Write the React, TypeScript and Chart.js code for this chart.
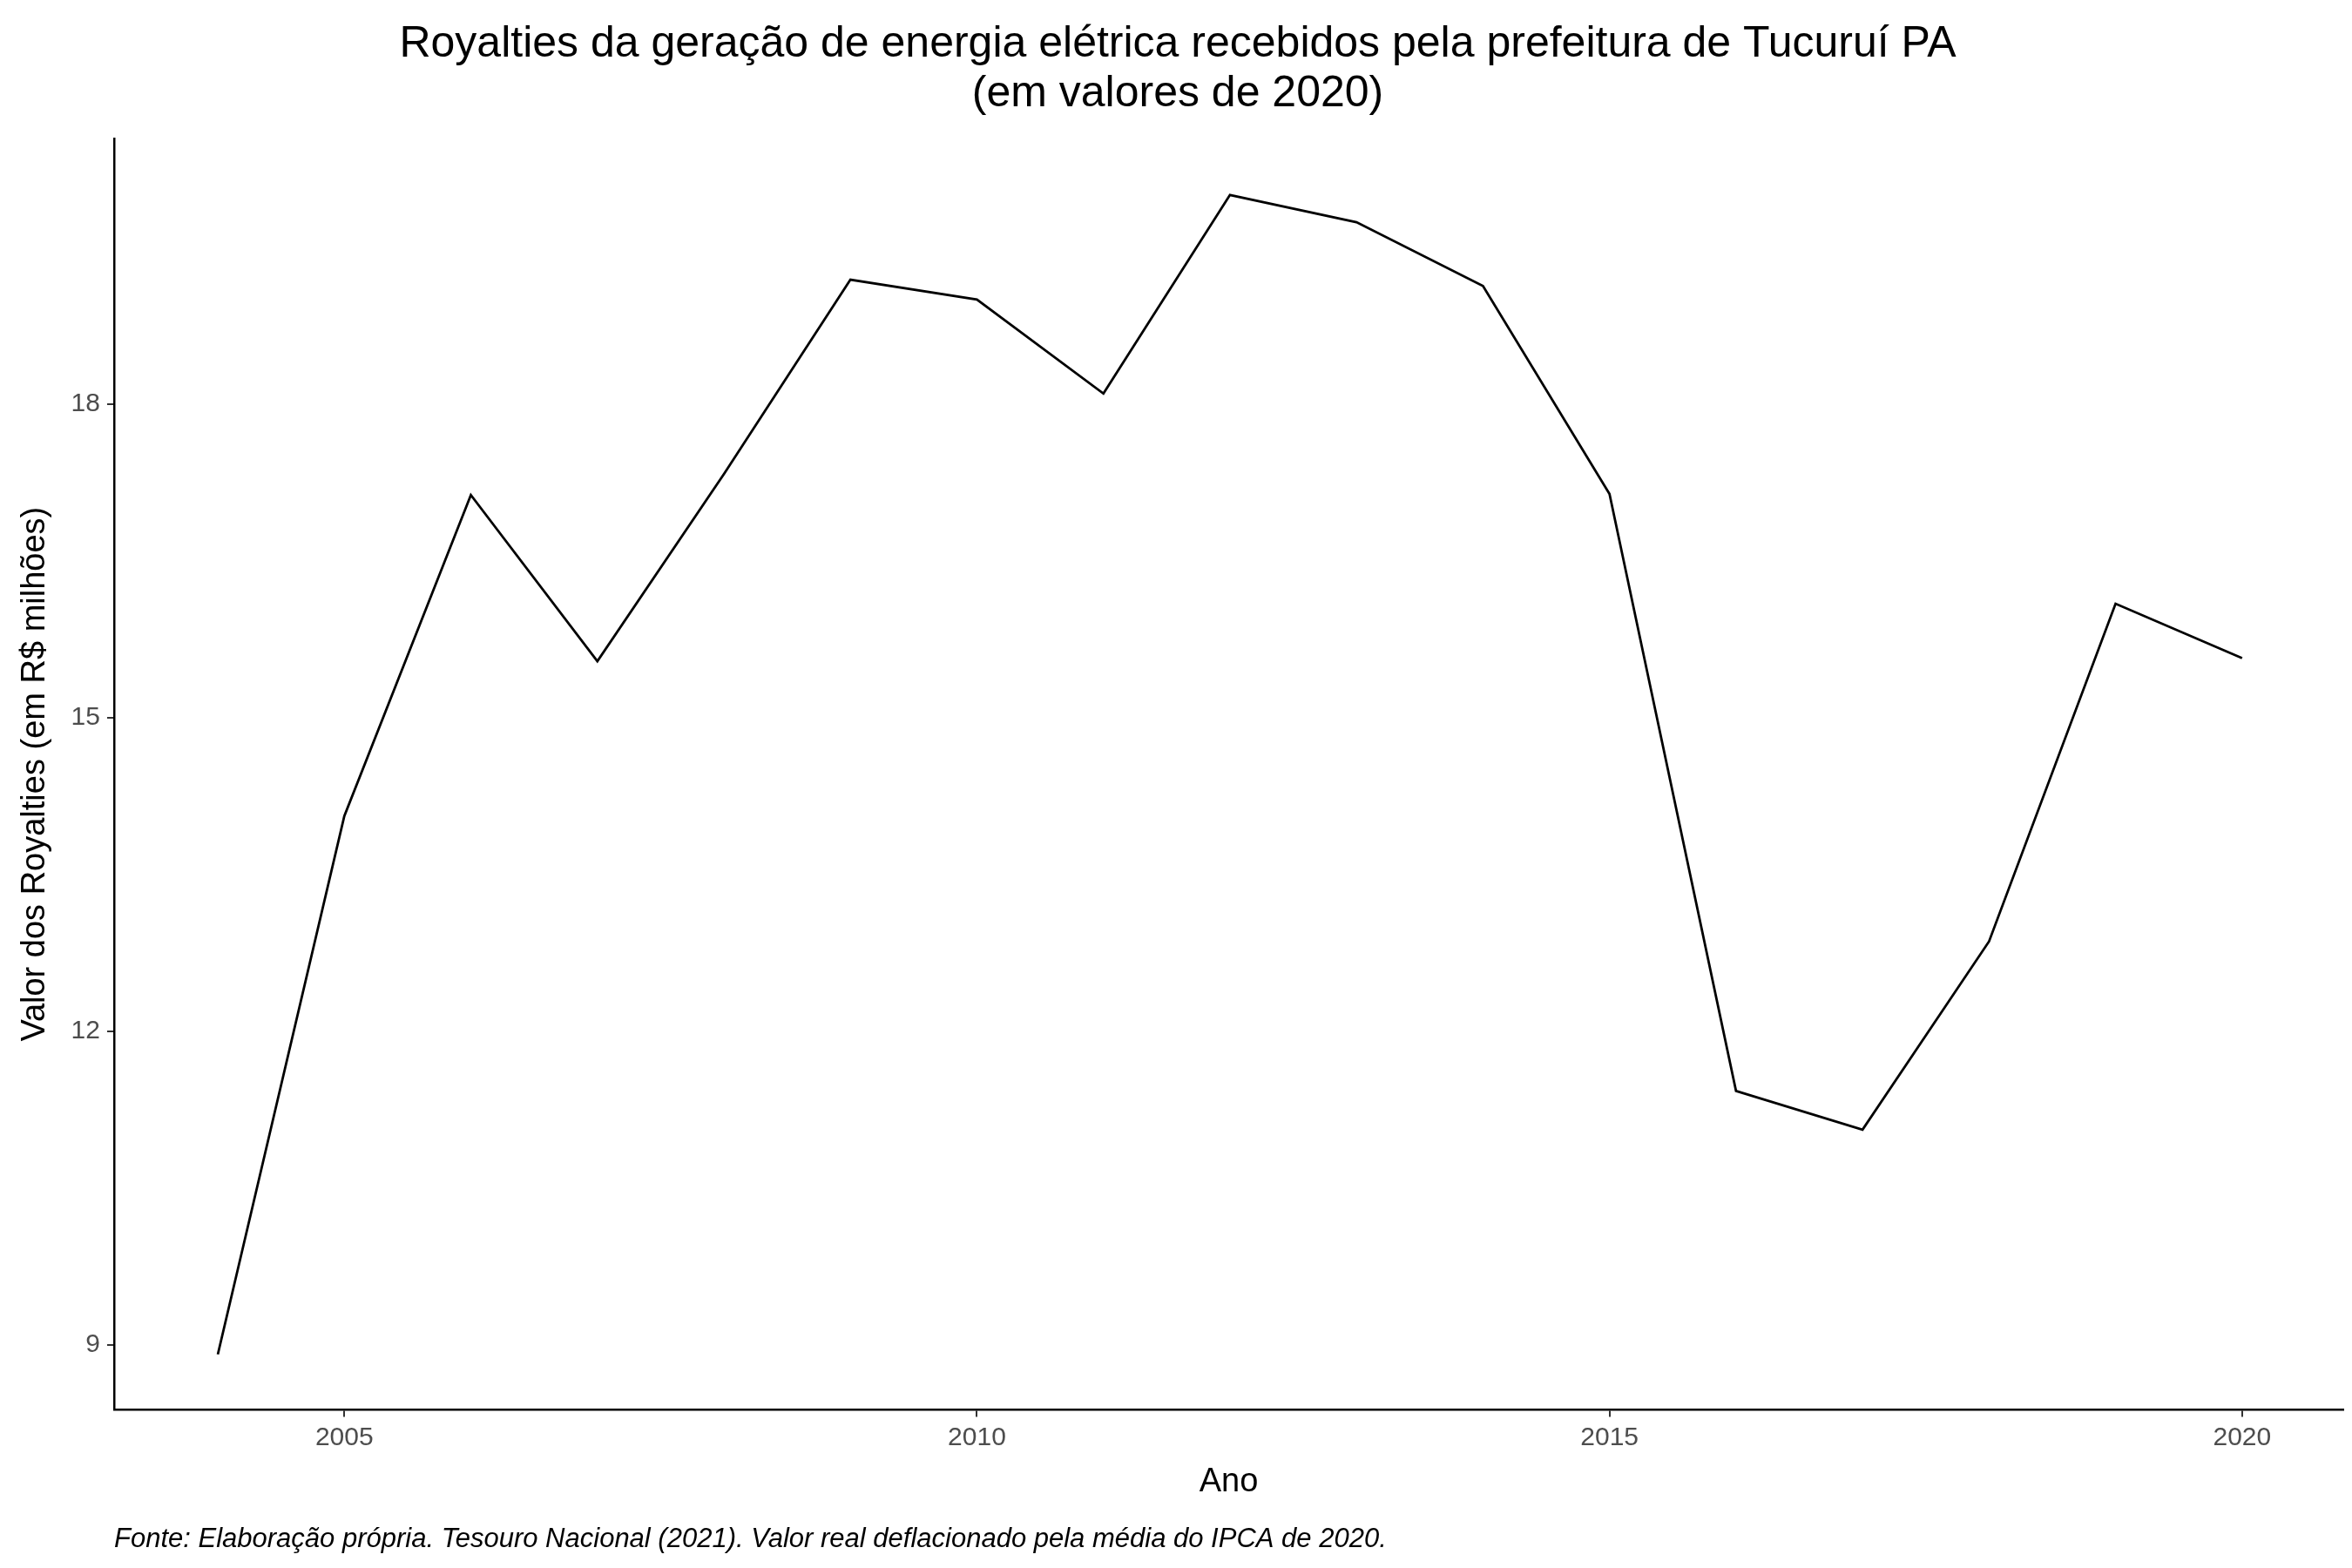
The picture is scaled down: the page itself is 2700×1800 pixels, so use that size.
import { useEffect, useRef } from "react"
import { Chart, registerables } from "chart.js"

Chart.register(...registerables)

const years = [2004, 2005, 2006, 2007, 2008, 2009, 2010, 2011, 2012, 2013, 2014, 2015, 2016, 2017, 2018, 2019, 2020]
const royalties = [8.91, 14.06, 17.13, 15.54, 17.33, 19.19, 19.0, 18.1, 20.0, 19.74, 19.13, 17.14, 11.43, 11.06, 12.86, 16.09, 15.57]
const xTicks = [2005, 2010, 2015, 2020]
const yTicks = [9, 12, 15, 18]
const caption = "Fonte: Elaboração própria. Tesouro Nacional (2021). Valor real deflacionado pela média do IPCA de 2020."

const FONT = "'Liberation Sans', Arial, sans-serif"

// draws the source note under the chart, aligned with the plot's left edge
const captionPlugin = {
  id: "caption",
  afterDraw(chart: Chart) {
    const ctx = chart.ctx
    ctx.save()
    ctx.font = `italic 31px ${FONT}`
    ctx.fillStyle = "#000000"
    ctx.textBaseline = "middle"
    ctx.textAlign = "left"
    ctx.fillText(caption, chart.chartArea.left, 1767)
    ctx.restore()
  },
}

export default function App() {
  const canvasRef = useRef<HTMLCanvasElement>(null)

  useEffect(() => {
    document.body.style.margin = "0"
    if (!canvasRef.current) return
    const chart = new Chart(canvasRef.current, {
      type: "line",
      data: {
        datasets: [
          {
            data: years.map((y, i) => ({ x: y, y: royalties[i] })),
            borderColor: "#000000",
            borderWidth: 2.8,
            pointRadius: 0,
            tension: 0,
          },
        ],
      },
      plugins: [captionPlugin],
      options: {
        animation: false,
        responsive: true,
        maintainAspectRatio: false,
        layout: { padding: { top: 10, right: 10, left: 14, bottom: 76 } },
        scales: {
          x: {
            type: "linear",
            min: 2003.18,
            max: 2020.8,
            afterBuildTicks: (axis) => {
              axis.ticks = xTicks.map((v) => ({ value: v }))
            },
            ticks: { color: "#4d4d4d", font: { family: FONT, size: 30 }, padding: 6, callback: (v) => String(v) },
            grid: { drawOnChartArea: false, drawTicks: true, tickLength: 8, color: "#333333", lineWidth: 2 },
            border: { display: true, color: "#000000", width: 2.5 },
            title: { display: true, text: "Ano", color: "#000000", font: { family: FONT, size: 38 }, padding: { top: 4, bottom: 0 } },
          },
          y: {
            min: 8.38,
            max: 20.54,
            afterBuildTicks: (axis) => {
              axis.ticks = yTicks.map((v) => ({ value: v }))
            },
            ticks: { color: "#4d4d4d", font: { family: FONT, size: 30 }, padding: 8 },
            grid: { drawOnChartArea: false, drawTicks: true, tickLength: 8, color: "#333333", lineWidth: 2 },
            border: { display: true, color: "#000000", width: 2.5 },
            title: { display: true, text: "Valor dos Royalties (em R$ milhões)", color: "#000000", font: { family: FONT, size: 38 }, padding: { bottom: 10 } },
          },
        },
        plugins: {
          legend: { display: false },
          tooltip: { enabled: false },
          title: {
            display: true,
            text: ["Royalties da geração de energia elétrica recebidos pela prefeitura de Tucuruí PA", "(em valores de 2020)"],
            color: "#000000",
            font: { family: FONT, size: 50, weight: "normal", lineHeight: 1.15 },
            padding: { top: 12, bottom: 22 },
          },
        },
      },
    })
    return () => chart.destroy()
  }, [])

  return (
    <div style={{ width: 2700, height: 1800, background: "#ffffff" }}>
      <canvas ref={canvasRef} />
    </div>
  )
}
